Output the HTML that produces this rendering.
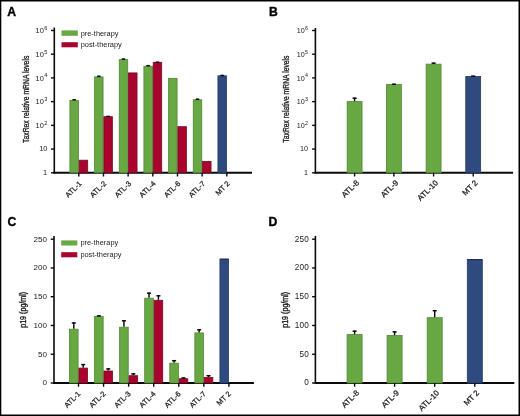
<!DOCTYPE html>
<html><head><meta charset="utf-8"><title>Figure</title>
<style>
html,body{margin:0;padding:0;background:#fff;}
body{width:520px;height:416px;overflow:hidden;}
svg{display:block;font-family:"Liberation Sans", sans-serif;will-change:transform;}
</style></head>
<body>
<svg width="520" height="416" viewBox="0 0 520 416">
<g>
<rect x="0" y="0" width="520" height="416" fill="#fff"/>
<line x1="54.30" y1="27.50" x2="54.30" y2="173.60" stroke="#0a0a0a" stroke-width="1.6"/>
<line x1="53.50" y1="172.80" x2="252.00" y2="172.80" stroke="#0a0a0a" stroke-width="2.0"/>
<line x1="51.00" y1="172.80" x2="54.30" y2="172.80" stroke="#0a0a0a" stroke-width="1.4"/>
<text x="47.10" y="174.70" font-size="7.4" text-anchor="end" font-weight="normal" fill="#222" >1</text>
<line x1="51.00" y1="149.08" x2="54.30" y2="149.08" stroke="#0a0a0a" stroke-width="1.4"/>
<text x="47.40" y="151.18" font-size="7.4" text-anchor="end" font-weight="normal" fill="#222" >10</text>
<line x1="51.00" y1="125.36" x2="54.30" y2="125.36" stroke="#0a0a0a" stroke-width="1.4"/>
<text x="43.8" y="128.06" font-size="7.4" text-anchor="end" fill="#222">10</text>
<text x="44.2" y="124.66" font-size="5.6" fill="#222">2</text>
<line x1="51.00" y1="101.64" x2="54.30" y2="101.64" stroke="#0a0a0a" stroke-width="1.4"/>
<text x="43.8" y="104.34" font-size="7.4" text-anchor="end" fill="#222">10</text>
<text x="44.2" y="100.94" font-size="5.6" fill="#222">3</text>
<line x1="51.00" y1="77.92" x2="54.30" y2="77.92" stroke="#0a0a0a" stroke-width="1.4"/>
<text x="43.8" y="80.62" font-size="7.4" text-anchor="end" fill="#222">10</text>
<text x="44.2" y="77.22" font-size="5.6" fill="#222">4</text>
<line x1="51.00" y1="54.20" x2="54.30" y2="54.20" stroke="#0a0a0a" stroke-width="1.4"/>
<text x="43.8" y="56.90" font-size="7.4" text-anchor="end" fill="#222">10</text>
<text x="44.2" y="53.50" font-size="5.6" fill="#222">5</text>
<line x1="51.00" y1="30.48" x2="54.30" y2="30.48" stroke="#0a0a0a" stroke-width="1.4"/>
<text x="43.8" y="33.18" font-size="7.4" text-anchor="end" fill="#222">10</text>
<text x="44.2" y="29.78" font-size="5.6" fill="#222">6</text>
<rect x="69.90" y="100.30" width="8.50" height="72.50" fill="#68a843" stroke="#4f8537" stroke-width="0.8"/>
<rect x="79.20" y="160.20" width="8.50" height="12.60" fill="#a8042e" stroke="#7c0822" stroke-width="0.8"/>
<rect x="94.57" y="76.90" width="8.50" height="95.90" fill="#68a843" stroke="#4f8537" stroke-width="0.8"/>
<rect x="103.87" y="116.70" width="8.50" height="56.10" fill="#a8042e" stroke="#7c0822" stroke-width="0.8"/>
<rect x="119.24" y="59.60" width="8.50" height="113.20" fill="#68a843" stroke="#4f8537" stroke-width="0.8"/>
<rect x="128.54" y="72.90" width="8.50" height="99.90" fill="#a8042e" stroke="#7c0822" stroke-width="0.8"/>
<rect x="143.91" y="66.20" width="8.50" height="106.60" fill="#68a843" stroke="#4f8537" stroke-width="0.8"/>
<rect x="153.21" y="62.30" width="8.50" height="110.50" fill="#a8042e" stroke="#7c0822" stroke-width="0.8"/>
<rect x="168.58" y="78.30" width="8.50" height="94.50" fill="#68a843" stroke="#4f8537" stroke-width="0.8"/>
<rect x="177.88" y="126.70" width="8.50" height="46.10" fill="#a8042e" stroke="#7c0822" stroke-width="0.8"/>
<rect x="193.25" y="99.80" width="8.50" height="73.00" fill="#68a843" stroke="#4f8537" stroke-width="0.8"/>
<rect x="202.55" y="161.40" width="8.50" height="11.40" fill="#a8042e" stroke="#7c0822" stroke-width="0.8"/>
<rect x="217.92" y="75.80" width="8.50" height="97.00" fill="#2e4a7e" stroke="#223a66" stroke-width="0.8"/>
<line x1="74.15" y1="99.90" x2="74.15" y2="99.10" stroke="#0a0a0a" stroke-width="1.45"/>
<line x1="72.40" y1="99.80" x2="75.90" y2="99.80" stroke="#0a0a0a" stroke-width="1.5"/>
<line x1="98.82" y1="76.50" x2="98.82" y2="75.70" stroke="#0a0a0a" stroke-width="1.45"/>
<line x1="97.07" y1="76.40" x2="100.57" y2="76.40" stroke="#0a0a0a" stroke-width="1.5"/>
<line x1="123.49" y1="59.20" x2="123.49" y2="58.40" stroke="#0a0a0a" stroke-width="1.45"/>
<line x1="121.74" y1="59.10" x2="125.24" y2="59.10" stroke="#0a0a0a" stroke-width="1.5"/>
<line x1="148.16" y1="65.80" x2="148.16" y2="65.00" stroke="#0a0a0a" stroke-width="1.45"/>
<line x1="146.41" y1="65.70" x2="149.91" y2="65.70" stroke="#0a0a0a" stroke-width="1.5"/>
<line x1="197.50" y1="99.40" x2="197.50" y2="98.60" stroke="#0a0a0a" stroke-width="1.45"/>
<line x1="195.75" y1="99.30" x2="199.25" y2="99.30" stroke="#0a0a0a" stroke-width="1.5"/>
<line x1="106.37" y1="116.40" x2="109.87" y2="116.40" stroke="#0a0a0a" stroke-width="1.5"/>
<line x1="155.71" y1="62.20" x2="159.21" y2="62.20" stroke="#0a0a0a" stroke-width="1.5"/>
<line x1="222.17" y1="75.40" x2="222.17" y2="74.80" stroke="#0a0a0a" stroke-width="1.45"/>
<line x1="220.42" y1="75.50" x2="223.92" y2="75.50" stroke="#0a0a0a" stroke-width="1.5"/>
<line x1="78.80" y1="172.80" x2="78.80" y2="176.50" stroke="#0a0a0a" stroke-width="1.4"/>
<line x1="103.47" y1="172.80" x2="103.47" y2="176.50" stroke="#0a0a0a" stroke-width="1.4"/>
<line x1="128.14" y1="172.80" x2="128.14" y2="176.50" stroke="#0a0a0a" stroke-width="1.4"/>
<line x1="152.81" y1="172.80" x2="152.81" y2="176.50" stroke="#0a0a0a" stroke-width="1.4"/>
<line x1="177.48" y1="172.80" x2="177.48" y2="176.50" stroke="#0a0a0a" stroke-width="1.4"/>
<line x1="202.15" y1="172.80" x2="202.15" y2="176.50" stroke="#0a0a0a" stroke-width="1.4"/>
<line x1="226.82" y1="172.80" x2="226.82" y2="176.50" stroke="#0a0a0a" stroke-width="1.4"/>
<rect x="61.50" y="30.40" width="16.30" height="5.40" fill="#68a843"/>
<rect x="61.50" y="42.20" width="16.30" height="5.10" fill="#a8042e"/>
<text x="80.70" y="35.60" font-size="7.4" text-anchor="start" font-weight="normal" fill="#222" >pre-therapy</text>
<text x="80.70" y="47.40" font-size="7.4" text-anchor="start" font-weight="normal" fill="#222" >post-therapy</text>
<text transform="translate(82.20,184.10) rotate(-45)" font-size="7.4" text-anchor="end" fill="#1a1a1a" stroke="#1a1a1a" stroke-width="0.25">ATL-1</text>
<text transform="translate(106.87,184.10) rotate(-45)" font-size="7.4" text-anchor="end" fill="#1a1a1a" stroke="#1a1a1a" stroke-width="0.25">ATL-2</text>
<text transform="translate(131.54,184.10) rotate(-45)" font-size="7.4" text-anchor="end" fill="#1a1a1a" stroke="#1a1a1a" stroke-width="0.25">ATL-3</text>
<text transform="translate(156.21,184.10) rotate(-45)" font-size="7.4" text-anchor="end" fill="#1a1a1a" stroke="#1a1a1a" stroke-width="0.25">ATL-4</text>
<text transform="translate(180.88,184.10) rotate(-45)" font-size="7.4" text-anchor="end" fill="#1a1a1a" stroke="#1a1a1a" stroke-width="0.25">ATL-6</text>
<text transform="translate(205.55,184.10) rotate(-45)" font-size="7.4" text-anchor="end" fill="#1a1a1a" stroke="#1a1a1a" stroke-width="0.25">ATL-7</text>
<text transform="translate(230.22,184.10) rotate(-45)" font-size="7.4" text-anchor="end" fill="#1a1a1a" stroke="#1a1a1a" stroke-width="0.25">MT 2</text>
<text transform="translate(29.1,99.3) rotate(-90) scale(0.80,1)" font-size="8.5" text-anchor="middle" fill="#1a1a1a" stroke="#1a1a1a" stroke-width="0.3">TaxRex relative mRNA levels</text>
<text x="7.30" y="16.00" font-size="12.2" text-anchor="start" font-weight="bold" fill="#000" stroke="#000" stroke-width="0.35" >A</text>
<line x1="315.40" y1="28.00" x2="315.40" y2="173.60" stroke="#0a0a0a" stroke-width="1.6"/>
<line x1="314.60" y1="172.80" x2="513.10" y2="172.80" stroke="#0a0a0a" stroke-width="2.0"/>
<line x1="312.10" y1="172.80" x2="315.40" y2="172.80" stroke="#0a0a0a" stroke-width="1.4"/>
<text x="308.00" y="174.70" font-size="7.2" text-anchor="end" font-weight="normal" fill="#222" >1</text>
<line x1="312.10" y1="149.08" x2="315.40" y2="149.08" stroke="#0a0a0a" stroke-width="1.4"/>
<text x="308.00" y="151.08" font-size="7.2" text-anchor="end" font-weight="normal" fill="#222" >10</text>
<line x1="312.10" y1="125.36" x2="315.40" y2="125.36" stroke="#0a0a0a" stroke-width="1.4"/>
<text x="304.8" y="128.06" font-size="7.2" text-anchor="end" fill="#222">10</text>
<text x="305.1" y="124.66" font-size="5.3" fill="#222">2</text>
<line x1="312.10" y1="101.64" x2="315.40" y2="101.64" stroke="#0a0a0a" stroke-width="1.4"/>
<text x="304.8" y="104.34" font-size="7.2" text-anchor="end" fill="#222">10</text>
<text x="305.1" y="100.94" font-size="5.3" fill="#222">3</text>
<line x1="312.10" y1="77.92" x2="315.40" y2="77.92" stroke="#0a0a0a" stroke-width="1.4"/>
<text x="304.8" y="80.62" font-size="7.2" text-anchor="end" fill="#222">10</text>
<text x="305.1" y="77.22" font-size="5.3" fill="#222">4</text>
<line x1="312.10" y1="54.20" x2="315.40" y2="54.20" stroke="#0a0a0a" stroke-width="1.4"/>
<text x="304.8" y="56.90" font-size="7.2" text-anchor="end" fill="#222">10</text>
<text x="305.1" y="53.50" font-size="5.3" fill="#222">5</text>
<line x1="312.10" y1="30.48" x2="315.40" y2="30.48" stroke="#0a0a0a" stroke-width="1.4"/>
<text x="304.8" y="33.18" font-size="7.2" text-anchor="end" fill="#222">10</text>
<text x="305.1" y="29.78" font-size="5.3" fill="#222">6</text>
<rect x="347.15" y="101.60" width="14.90" height="71.20" fill="#68a843" stroke="#4f8537" stroke-width="0.8"/>
<line x1="354.60" y1="101.20" x2="354.60" y2="97.50" stroke="#0a0a0a" stroke-width="1.45"/>
<line x1="352.60" y1="98.20" x2="356.60" y2="98.20" stroke="#0a0a0a" stroke-width="1.5"/>
<line x1="354.60" y1="172.80" x2="354.60" y2="176.50" stroke="#0a0a0a" stroke-width="1.4"/>
<rect x="386.45" y="84.60" width="14.90" height="88.20" fill="#68a843" stroke="#4f8537" stroke-width="0.8"/>
<line x1="393.90" y1="84.20" x2="393.90" y2="83.60" stroke="#0a0a0a" stroke-width="1.45"/>
<line x1="391.90" y1="84.30" x2="395.90" y2="84.30" stroke="#0a0a0a" stroke-width="1.5"/>
<line x1="393.90" y1="172.80" x2="393.90" y2="176.50" stroke="#0a0a0a" stroke-width="1.4"/>
<rect x="426.15" y="64.15" width="14.90" height="108.65" fill="#68a843" stroke="#4f8537" stroke-width="0.8"/>
<line x1="433.60" y1="63.75" x2="433.60" y2="62.50" stroke="#0a0a0a" stroke-width="1.45"/>
<line x1="431.60" y1="63.20" x2="435.60" y2="63.20" stroke="#0a0a0a" stroke-width="1.5"/>
<line x1="433.60" y1="172.80" x2="433.60" y2="176.50" stroke="#0a0a0a" stroke-width="1.4"/>
<rect x="465.75" y="76.40" width="14.90" height="96.40" fill="#2e4a7e" stroke="#223a66" stroke-width="0.8"/>
<line x1="471.20" y1="76.10" x2="475.20" y2="76.10" stroke="#0a0a0a" stroke-width="1.5"/>
<line x1="473.20" y1="172.80" x2="473.20" y2="176.50" stroke="#0a0a0a" stroke-width="1.4"/>
<text transform="translate(359.50,183.30) rotate(-45)" font-size="7.9" text-anchor="end" fill="#1a1a1a" stroke="#1a1a1a" stroke-width="0.25">ATL-8</text>
<text transform="translate(398.80,183.30) rotate(-45)" font-size="7.9" text-anchor="end" fill="#1a1a1a" stroke="#1a1a1a" stroke-width="0.25">ATL-9</text>
<text transform="translate(438.50,183.30) rotate(-45)" font-size="7.9" text-anchor="end" fill="#1a1a1a" stroke="#1a1a1a" stroke-width="0.25">ATL-10</text>
<text transform="translate(478.10,183.30) rotate(-45)" font-size="7.9" text-anchor="end" fill="#1a1a1a" stroke="#1a1a1a" stroke-width="0.25">MT 2</text>
<text transform="translate(289.3,99.1) rotate(-90) scale(0.80,1)" font-size="8.5" text-anchor="middle" fill="#1a1a1a" stroke="#1a1a1a" stroke-width="0.3">TaxRex relative mRNA levels</text>
<text x="268.90" y="16.20" font-size="12.2" text-anchor="start" font-weight="bold" fill="#000" stroke="#000" stroke-width="0.35" >B</text>
<line x1="54.00" y1="236.00" x2="54.00" y2="383.80" stroke="#0a0a0a" stroke-width="1.6"/>
<line x1="53.20" y1="383.00" x2="253.90" y2="383.00" stroke="#0a0a0a" stroke-width="2.0"/>
<line x1="50.70" y1="383.00" x2="54.00" y2="383.00" stroke="#0a0a0a" stroke-width="1.4"/>
<text x="47.10" y="385.30" font-size="8.1" text-anchor="end" font-weight="normal" fill="#222" >0</text>
<line x1="50.70" y1="354.24" x2="54.00" y2="354.24" stroke="#0a0a0a" stroke-width="1.4"/>
<text x="47.10" y="356.54" font-size="8.1" text-anchor="end" font-weight="normal" fill="#222" >50</text>
<line x1="50.70" y1="325.48" x2="54.00" y2="325.48" stroke="#0a0a0a" stroke-width="1.4"/>
<text x="47.10" y="327.78" font-size="8.1" text-anchor="end" font-weight="normal" fill="#222" >100</text>
<line x1="50.70" y1="296.72" x2="54.00" y2="296.72" stroke="#0a0a0a" stroke-width="1.4"/>
<text x="47.10" y="299.02" font-size="8.1" text-anchor="end" font-weight="normal" fill="#222" >150</text>
<line x1="50.70" y1="267.96" x2="54.00" y2="267.96" stroke="#0a0a0a" stroke-width="1.4"/>
<text x="47.10" y="270.26" font-size="8.1" text-anchor="end" font-weight="normal" fill="#222" >200</text>
<line x1="50.70" y1="239.20" x2="54.00" y2="239.20" stroke="#0a0a0a" stroke-width="1.4"/>
<text x="47.10" y="241.50" font-size="8.1" text-anchor="end" font-weight="normal" fill="#222" >250</text>
<rect x="69.50" y="329.20" width="8.60" height="53.80" fill="#68a843" stroke="#4f8537" stroke-width="0.8"/>
<rect x="78.90" y="368.10" width="8.60" height="14.90" fill="#a8042e" stroke="#7c0822" stroke-width="0.8"/>
<rect x="94.57" y="316.40" width="8.60" height="66.60" fill="#68a843" stroke="#4f8537" stroke-width="0.8"/>
<rect x="103.97" y="371.00" width="8.60" height="12.00" fill="#a8042e" stroke="#7c0822" stroke-width="0.8"/>
<rect x="119.64" y="327.20" width="8.60" height="55.80" fill="#68a843" stroke="#4f8537" stroke-width="0.8"/>
<rect x="129.04" y="375.70" width="8.60" height="7.30" fill="#a8042e" stroke="#7c0822" stroke-width="0.8"/>
<rect x="144.71" y="298.20" width="8.60" height="84.80" fill="#68a843" stroke="#4f8537" stroke-width="0.8"/>
<rect x="154.11" y="300.30" width="8.60" height="82.70" fill="#a8042e" stroke="#7c0822" stroke-width="0.8"/>
<rect x="169.78" y="363.20" width="8.60" height="19.80" fill="#68a843" stroke="#4f8537" stroke-width="0.8"/>
<rect x="179.18" y="378.70" width="8.60" height="4.30" fill="#a8042e" stroke="#7c0822" stroke-width="0.8"/>
<rect x="194.85" y="332.90" width="8.60" height="50.10" fill="#68a843" stroke="#4f8537" stroke-width="0.8"/>
<rect x="204.25" y="377.40" width="8.60" height="5.60" fill="#a8042e" stroke="#7c0822" stroke-width="0.8"/>
<rect x="219.92" y="259.10" width="8.60" height="123.90" fill="#2e4a7e" stroke="#223a66" stroke-width="0.8"/>
<line x1="73.80" y1="328.80" x2="73.80" y2="322.30" stroke="#0a0a0a" stroke-width="1.45"/>
<line x1="71.80" y1="323.00" x2="75.80" y2="323.00" stroke="#0a0a0a" stroke-width="1.5"/>
<line x1="83.20" y1="367.70" x2="83.20" y2="363.90" stroke="#0a0a0a" stroke-width="1.45"/>
<line x1="81.20" y1="364.60" x2="85.20" y2="364.60" stroke="#0a0a0a" stroke-width="1.5"/>
<line x1="98.87" y1="316.00" x2="98.87" y2="315.20" stroke="#0a0a0a" stroke-width="1.45"/>
<line x1="96.87" y1="315.90" x2="100.87" y2="315.90" stroke="#0a0a0a" stroke-width="1.5"/>
<line x1="108.27" y1="370.60" x2="108.27" y2="368.20" stroke="#0a0a0a" stroke-width="1.45"/>
<line x1="106.27" y1="368.90" x2="110.27" y2="368.90" stroke="#0a0a0a" stroke-width="1.5"/>
<line x1="123.94" y1="326.80" x2="123.94" y2="320.10" stroke="#0a0a0a" stroke-width="1.45"/>
<line x1="121.94" y1="320.80" x2="125.94" y2="320.80" stroke="#0a0a0a" stroke-width="1.5"/>
<line x1="133.34" y1="375.30" x2="133.34" y2="373.20" stroke="#0a0a0a" stroke-width="1.45"/>
<line x1="131.34" y1="373.90" x2="135.34" y2="373.90" stroke="#0a0a0a" stroke-width="1.5"/>
<line x1="149.01" y1="297.80" x2="149.01" y2="292.50" stroke="#0a0a0a" stroke-width="1.45"/>
<line x1="147.01" y1="293.20" x2="151.01" y2="293.20" stroke="#0a0a0a" stroke-width="1.5"/>
<line x1="158.41" y1="299.90" x2="158.41" y2="295.10" stroke="#0a0a0a" stroke-width="1.45"/>
<line x1="156.41" y1="295.80" x2="160.41" y2="295.80" stroke="#0a0a0a" stroke-width="1.5"/>
<line x1="174.08" y1="362.80" x2="174.08" y2="360.00" stroke="#0a0a0a" stroke-width="1.45"/>
<line x1="172.08" y1="360.70" x2="176.08" y2="360.70" stroke="#0a0a0a" stroke-width="1.5"/>
<line x1="183.48" y1="378.30" x2="183.48" y2="377.30" stroke="#0a0a0a" stroke-width="1.45"/>
<line x1="181.48" y1="378.00" x2="185.48" y2="378.00" stroke="#0a0a0a" stroke-width="1.5"/>
<line x1="199.15" y1="332.50" x2="199.15" y2="329.10" stroke="#0a0a0a" stroke-width="1.45"/>
<line x1="197.15" y1="329.80" x2="201.15" y2="329.80" stroke="#0a0a0a" stroke-width="1.5"/>
<line x1="208.55" y1="377.00" x2="208.55" y2="375.00" stroke="#0a0a0a" stroke-width="1.45"/>
<line x1="206.55" y1="375.70" x2="210.55" y2="375.70" stroke="#0a0a0a" stroke-width="1.5"/>
<line x1="219.92" y1="259.20" x2="228.52" y2="259.20" stroke="#1c2c4c" stroke-width="1.0"/>
<line x1="78.50" y1="383.00" x2="78.50" y2="386.70" stroke="#0a0a0a" stroke-width="1.4"/>
<line x1="103.57" y1="383.00" x2="103.57" y2="386.70" stroke="#0a0a0a" stroke-width="1.4"/>
<line x1="128.64" y1="383.00" x2="128.64" y2="386.70" stroke="#0a0a0a" stroke-width="1.4"/>
<line x1="153.71" y1="383.00" x2="153.71" y2="386.70" stroke="#0a0a0a" stroke-width="1.4"/>
<line x1="178.78" y1="383.00" x2="178.78" y2="386.70" stroke="#0a0a0a" stroke-width="1.4"/>
<line x1="203.85" y1="383.00" x2="203.85" y2="386.70" stroke="#0a0a0a" stroke-width="1.4"/>
<line x1="228.92" y1="383.00" x2="228.92" y2="386.70" stroke="#0a0a0a" stroke-width="1.4"/>
<rect x="61.20" y="240.40" width="16.10" height="5.10" fill="#68a843"/>
<rect x="61.20" y="252.20" width="16.10" height="5.10" fill="#a8042e"/>
<text x="80.40" y="245.40" font-size="7.4" text-anchor="start" font-weight="normal" fill="#222" >pre-therapy</text>
<text x="80.40" y="257.20" font-size="7.4" text-anchor="start" font-weight="normal" fill="#222" >post-therapy</text>
<text transform="translate(81.00,394.30) rotate(-45)" font-size="7.4" text-anchor="end" fill="#1a1a1a" stroke="#1a1a1a" stroke-width="0.25">ATL-1</text>
<text transform="translate(106.07,394.30) rotate(-45)" font-size="7.4" text-anchor="end" fill="#1a1a1a" stroke="#1a1a1a" stroke-width="0.25">ATL-2</text>
<text transform="translate(131.14,394.30) rotate(-45)" font-size="7.4" text-anchor="end" fill="#1a1a1a" stroke="#1a1a1a" stroke-width="0.25">ATL-3</text>
<text transform="translate(156.21,394.30) rotate(-45)" font-size="7.4" text-anchor="end" fill="#1a1a1a" stroke="#1a1a1a" stroke-width="0.25">ATL-4</text>
<text transform="translate(181.28,394.30) rotate(-45)" font-size="7.4" text-anchor="end" fill="#1a1a1a" stroke="#1a1a1a" stroke-width="0.25">ATL-6</text>
<text transform="translate(206.35,394.30) rotate(-45)" font-size="7.4" text-anchor="end" fill="#1a1a1a" stroke="#1a1a1a" stroke-width="0.25">ATL-7</text>
<text transform="translate(231.42,394.30) rotate(-45)" font-size="7.4" text-anchor="end" fill="#1a1a1a" stroke="#1a1a1a" stroke-width="0.25">MT 2</text>
<text transform="translate(26.3,309.8) rotate(-90) scale(0.84,1)" font-size="8.5" text-anchor="middle" fill="#1a1a1a" stroke="#1a1a1a" stroke-width="0.35">p19 (pg/ml)</text>
<text x="7.60" y="226.40" font-size="12.2" text-anchor="start" font-weight="bold" fill="#000" stroke="#000" stroke-width="0.35" >C</text>
<line x1="315.40" y1="235.90" x2="315.40" y2="383.80" stroke="#0a0a0a" stroke-width="1.6"/>
<line x1="314.60" y1="383.00" x2="514.30" y2="383.00" stroke="#0a0a0a" stroke-width="2.0"/>
<line x1="312.10" y1="383.00" x2="315.40" y2="383.00" stroke="#0a0a0a" stroke-width="1.4"/>
<text x="309.10" y="385.40" font-size="8.2" text-anchor="end" font-weight="normal" fill="#222" letter-spacing="0.25">0</text>
<line x1="312.10" y1="354.24" x2="315.40" y2="354.24" stroke="#0a0a0a" stroke-width="1.4"/>
<text x="309.10" y="356.64" font-size="8.2" text-anchor="end" font-weight="normal" fill="#222" letter-spacing="0.25">50</text>
<line x1="312.10" y1="325.48" x2="315.40" y2="325.48" stroke="#0a0a0a" stroke-width="1.4"/>
<text x="309.10" y="327.88" font-size="8.2" text-anchor="end" font-weight="normal" fill="#222" letter-spacing="0.25">100</text>
<line x1="312.10" y1="296.72" x2="315.40" y2="296.72" stroke="#0a0a0a" stroke-width="1.4"/>
<text x="309.10" y="299.12" font-size="8.2" text-anchor="end" font-weight="normal" fill="#222" letter-spacing="0.25">150</text>
<line x1="312.10" y1="267.96" x2="315.40" y2="267.96" stroke="#0a0a0a" stroke-width="1.4"/>
<text x="309.10" y="270.36" font-size="8.2" text-anchor="end" font-weight="normal" fill="#222" letter-spacing="0.25">200</text>
<line x1="312.10" y1="239.20" x2="315.40" y2="239.20" stroke="#0a0a0a" stroke-width="1.4"/>
<text x="309.10" y="241.60" font-size="8.2" text-anchor="end" font-weight="normal" fill="#222" letter-spacing="0.25">250</text>
<rect x="347.10" y="334.60" width="15.00" height="48.40" fill="#68a843" stroke="#4f8537" stroke-width="0.8"/>
<line x1="354.60" y1="334.20" x2="354.60" y2="330.50" stroke="#0a0a0a" stroke-width="1.45"/>
<line x1="352.60" y1="331.20" x2="356.60" y2="331.20" stroke="#0a0a0a" stroke-width="1.5"/>
<line x1="354.60" y1="383.00" x2="354.60" y2="386.70" stroke="#0a0a0a" stroke-width="1.4"/>
<rect x="387.10" y="335.50" width="15.00" height="47.50" fill="#68a843" stroke="#4f8537" stroke-width="0.8"/>
<line x1="394.60" y1="335.10" x2="394.60" y2="331.20" stroke="#0a0a0a" stroke-width="1.45"/>
<line x1="392.60" y1="331.90" x2="396.60" y2="331.90" stroke="#0a0a0a" stroke-width="1.5"/>
<line x1="394.60" y1="383.00" x2="394.60" y2="386.70" stroke="#0a0a0a" stroke-width="1.4"/>
<rect x="427.20" y="317.70" width="15.00" height="65.30" fill="#68a843" stroke="#4f8537" stroke-width="0.8"/>
<line x1="434.70" y1="317.30" x2="434.70" y2="310.00" stroke="#0a0a0a" stroke-width="1.45"/>
<line x1="432.70" y1="310.70" x2="436.70" y2="310.70" stroke="#0a0a0a" stroke-width="1.5"/>
<line x1="434.70" y1="383.00" x2="434.70" y2="386.70" stroke="#0a0a0a" stroke-width="1.4"/>
<rect x="467.30" y="259.60" width="15.00" height="123.40" fill="#2e4a7e" stroke="#223a66" stroke-width="0.8"/>
<line x1="474.80" y1="383.00" x2="474.80" y2="386.70" stroke="#0a0a0a" stroke-width="1.4"/>
<line x1="467.30" y1="259.70" x2="482.30" y2="259.70" stroke="#1c2c4c" stroke-width="1.0"/>
<text transform="translate(359.50,393.50) rotate(-45)" font-size="7.9" text-anchor="end" fill="#1a1a1a" stroke="#1a1a1a" stroke-width="0.25">ATL-8</text>
<text transform="translate(399.50,393.50) rotate(-45)" font-size="7.9" text-anchor="end" fill="#1a1a1a" stroke="#1a1a1a" stroke-width="0.25">ATL-9</text>
<text transform="translate(439.60,393.50) rotate(-45)" font-size="7.9" text-anchor="end" fill="#1a1a1a" stroke="#1a1a1a" stroke-width="0.25">ATL-10</text>
<text transform="translate(479.70,393.50) rotate(-45)" font-size="7.9" text-anchor="end" fill="#1a1a1a" stroke="#1a1a1a" stroke-width="0.25">MT 2</text>
<text transform="translate(288.0,309.8) rotate(-90) scale(0.84,1)" font-size="8.5" text-anchor="middle" fill="#1a1a1a" stroke="#1a1a1a" stroke-width="0.35">p19 (pg/ml)</text>
<text x="268.50" y="225.90" font-size="12.2" text-anchor="start" font-weight="bold" fill="#000" stroke="#000" stroke-width="0.35" >D</text>
</g>
<rect x="0" y="0" width="520" height="1.5" fill="#000"/>
<rect x="0" y="0" width="1.3" height="416" fill="#000"/>
<rect x="518.5" y="0" width="1.5" height="416" fill="#000"/>
<rect x="0" y="414.5" width="520" height="1.5" fill="#000"/>
</svg>
</body></html>
